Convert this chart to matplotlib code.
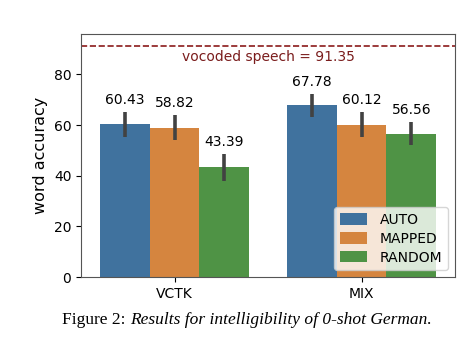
import matplotlib
matplotlib.use('Agg')
import matplotlib.pyplot as plt
import numpy as np

# === DADOS ===
grupos = ['VCTK', 'MIX']
metodos = ['AUTO', 'MAPPED', 'RANDOM']
valores = {
    'AUTO':   [60.43, 67.78],
    'MAPPED': [58.82, 60.12],
    'RANDOM': [43.39, 56.56],
}
erros_inf = {
    'AUTO':   [55.4, 63.3],
    'MAPPED': [54.0, 55.4],
    'RANDOM': [38.0, 52.1],
}
erros_sup = {
    'AUTO':   [65.3, 72.2],
    'MAPPED': [64.0, 65.3],
    'RANDOM': [48.6, 61.3],
}
vocoded = 91.35
cores = ['#40729e', '#d5853f', '#4f9345']

# === FIGURA ===
fig = plt.figure(figsize=(4.74, 3.46), dpi=100)
ax = fig.add_axes([0.171, 0.1994, 0.789, 0.7023])

x = np.arange(len(grupos))
largura = 0.8 / len(metodos)
for i, m in enumerate(metodos):
    pos = x - 0.4 + largura * (i + 0.5)
    v = np.array(valores[m])
    yerr = [v - np.array(erros_inf[m]), np.array(erros_sup[m]) - v]
    ax.bar(pos, v, width=largura, color=cores[i], label=m, zorder=2)
    ax.errorbar(pos, v, yerr=yerr, fmt='none', ecolor='#424242',
                elinewidth=2.6, capsize=0, zorder=3)
    for p, val, top in zip(pos, v, erros_sup[m]):
        ax.text(p, top + 2.0, f'{val:.2f}', ha='center', va='bottom',
                fontsize=10, color='black')

ax.axhline(vocoded, color='#8b1a1a', linestyle='--', linewidth=1.2)
ax.text(0.5, vocoded - 1.8, f'vocoded speech = {vocoded}', ha='center',
        va='top', fontsize=10, color='#7a1c1c')

ax.set_xlim(-0.5, 1.5)
ax.set_ylim(0, vocoded * 1.05)
ax.set_xticks(x)
ax.set_xticklabels(grupos, fontsize=10)
ax.set_yticks([0, 20, 40, 60, 80])
ax.tick_params(axis='y', labelsize=10)
ax.set_ylabel('word accuracy', fontsize=11.5)
for s in ax.spines.values():
    s.set_color('#555555')

ax.legend(loc='lower right', fontsize=10, framealpha=0.8, borderpad=0.4,
          handlelength=2.0, handleheight=0.9, handletextpad=0.9,
          labelspacing=0.35, borderaxespad=0.5)

# === LEGENDA DA FIGURA ===
t1 = fig.text(0.131, 0.0636, 'Figure 2: ', fontsize=12.5,
              family='Liberation Serif', ha='left', va='baseline')
fig.canvas.draw()
ax.annotate('Results for intelligibility of 0-shot German.', xy=(1, 0),
            xycoords=t1, fontsize=12.5, family='Liberation Serif',
            style='italic', ha='left', va='bottom', annotation_clip=False)

fig.savefig('out.png', dpi=100)
